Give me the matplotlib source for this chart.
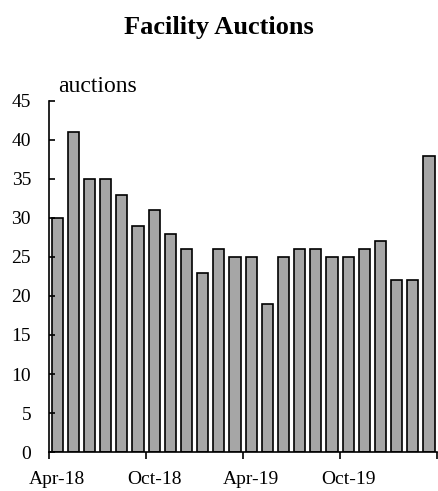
import matplotlib.pyplot as plt
import numpy as np

# Monthly facility auctions, Apr-18 .. Mar-20
months = ['Apr-18', 'May-18', 'Jun-18', 'Jul-18', 'Aug-18', 'Sep-18',
          'Oct-18', 'Nov-18', 'Dec-18', 'Jan-19', 'Feb-19', 'Mar-19',
          'Apr-19', 'May-19', 'Jun-19', 'Jul-19', 'Aug-19', 'Sep-19',
          'Oct-19', 'Nov-19', 'Dec-19', 'Jan-20', 'Feb-20', 'Mar-20']
auctions = [30, 41, 35, 35, 33, 29, 31, 28, 26, 23, 26, 25,
            25, 19, 25, 26, 26, 25, 25, 26, 27, 22, 22, 38]
shown = ['Apr-18', 'Oct-18', 'Apr-19', 'Oct-19']

plt.rcParams['font.family'] = ['Liberation Serif', 'DejaVu Serif']

fig = plt.figure(figsize=(4.38, 4.91), dpi=100)
ax = fig.add_axes([0.112, 0.0794, 0.886, 0.715])

x = np.arange(len(auctions)) + 0.5
ax.bar(x, auctions, width=0.69, color='#a6a6a6', edgecolor='black', linewidth=1.2)

ax.set_xlim(0, len(auctions))
ax.set_ylim(0, 45)
ax.set_yticks(np.arange(0, 46, 5))

# tick marks on month boundaries, labels centred on the bars
ax.set_xticks(np.arange(0, 25, 6))
ax.set_xticklabels([])
lab_pos = [x[months.index(m)] for m in shown]
ax.set_xticks(lab_pos, minor=True)
ax.set_xticklabels(shown, minor=True)

for s in ['top', 'right']:
    ax.spines[s].set_visible(False)
ax.spines['left'].set_linewidth(1.2)
ax.spines['bottom'].set_linewidth(1.2)

ax.tick_params(axis='y', direction='in', length=4, width=1.2, labelsize=14, pad=13)
ax.tick_params(axis='x', which='major', direction='out', length=5, width=1.2)
ax.tick_params(axis='x', which='minor', length=0, labelsize=14, pad=14)

ax.text(0.55, 46.2, 'auctions', fontsize=17, ha='left', va='baseline')
fig.suptitle('Facility Auctions', fontsize=19, fontweight='bold', x=0.5, y=0.967)

plt.savefig('out.png', dpi=100)
